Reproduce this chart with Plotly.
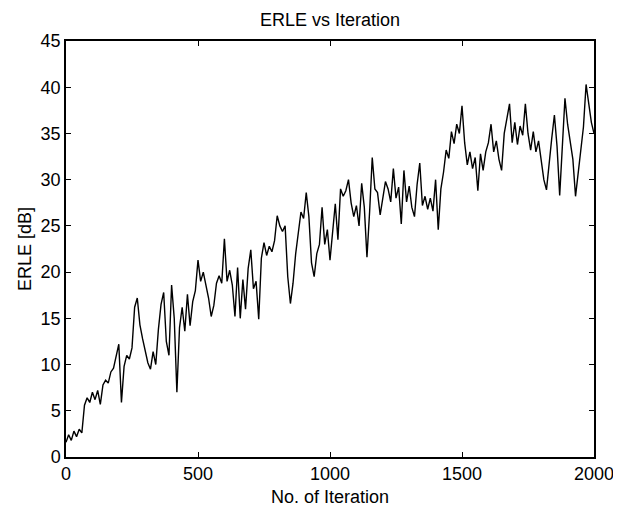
import plotly.graph_objects as go

iterations = list(range(0, 2001, 10))
erle_db = [
    1.6, 2.4, 1.8, 2.8, 2.2, 3.0, 2.6, 5.6, 6.4, 5.9,
    7.0, 6.2, 7.2, 5.7, 7.8, 8.3, 8.0, 9.2, 9.6, 10.8,
    12.2, 5.9, 9.8, 11.0, 10.6, 11.8, 16.2, 17.2, 14.3, 12.8,
    11.6, 10.2, 9.5, 11.4, 10.0, 13.8, 16.5, 17.8, 12.5, 11.0,
    18.6, 15.0, 7.0, 14.0, 16.2, 13.6, 17.6, 14.2, 16.8, 18.0,
    21.3, 19.0, 20.0, 18.6, 17.2, 15.2, 16.4, 18.8, 19.6, 18.8,
    23.6, 19.0, 20.2, 18.6, 15.2, 20.5, 15.0, 19.2, 16.0, 20.4,
    22.4, 18.2, 19.0, 14.9, 21.5, 23.2, 21.8, 22.8, 22.2, 23.4,
    26.1, 25.0, 24.4, 25.0, 19.5, 16.6, 18.8, 22.0, 24.0, 26.5,
    25.8, 28.6, 26.0, 21.0, 19.5, 22.0, 23.0, 27.0, 23.0, 24.6,
    21.3, 24.5, 27.4, 23.5, 29.0, 28.2, 28.8, 30.0, 27.5, 26.0,
    27.2, 25.0, 29.6, 27.0, 21.6, 26.5, 32.4, 29.0, 28.6, 26.2,
    28.3, 29.8, 29.0, 27.6, 31.2, 28.0, 29.2, 25.2, 31.0, 27.6,
    29.3, 27.0, 26.0, 29.5, 31.8, 27.2, 28.2, 26.8, 28.0, 26.6,
    30.0, 24.6, 29.0, 30.8, 33.2, 32.3, 35.2, 33.9, 36.0, 35.0,
    38.0, 34.0, 31.6, 33.0, 31.2, 32.4, 28.8, 32.8, 31.0, 33.0,
    34.0, 36.0, 33.0, 34.2, 32.2, 31.0, 35.0, 36.4, 38.2, 34.0,
    36.2, 33.8, 35.8, 34.8, 38.2, 35.0, 33.2, 35.2, 33.0, 34.2,
    32.2, 30.0, 28.9, 32.0, 34.5, 37.0, 33.6, 28.3, 33.0, 38.8,
    36.0, 33.8, 32.2, 28.2, 30.5, 33.0, 35.7, 40.3, 38.0, 36.2,
    35.0,
]

x_ticks = [0, 500, 1000, 1500, 2000]
y_ticks = [0, 5, 10, 15, 20, 25, 30, 35, 40, 45]

title_text = "ERLE vs Iteration"
x_title = "No. of Iteration"
y_title = "ERLE [dB]"

font_family = "Liberation Sans, Arial, sans-serif"

# the page body has an 8px default margin, so the figure is 8px smaller
W, H = 613, 499

fig = go.Figure()
fig.add_trace(go.Scatter(
    x=iterations, y=erle_db, mode="lines",
    line=dict(color="black", width=1.4),
    showlegend=False,
))

axis_common = dict(
    showline=True, linecolor="black", linewidth=1.5, mirror="ticks",
    ticks="inside", ticklen=5, tickcolor="black", tickwidth=1,
    showgrid=False, zeroline=False, automargin=False,
    tickfont=dict(family=font_family, size=18, color="black"),
)

fig.update_layout(
    template="none",
    width=W, height=H,
    margin=dict(l=58, r=27, t=33, b=50, autoexpand=False),
    paper_bgcolor="white", plot_bgcolor="white",
    font=dict(family=font_family, size=18, color="black"),
    title=dict(text=title_text, x=0.5, xref="paper",
               y=1 - 12 / H, yanchor="middle",
               font=dict(family=font_family, size=18, color="black")),
    xaxis=dict(range=[0, 2000], tickvals=x_ticks, **axis_common),
    yaxis=dict(range=[0, 45], tickvals=y_ticks, **axis_common),
    annotations=[
        dict(text=x_title, xref="paper", yref="paper", x=0.5, y=0,
             xanchor="center", yanchor="middle", yshift=-40,
             showarrow=False, font=dict(family=font_family, size=18)),
        dict(text=y_title, xref="paper", yref="paper", x=0, y=0.5,
             xanchor="center", yanchor="middle", xshift=-41,
             textangle=-90, showarrow=False,
             font=dict(family=font_family, size=18)),
    ],
)

fig.write_html("out.html")
